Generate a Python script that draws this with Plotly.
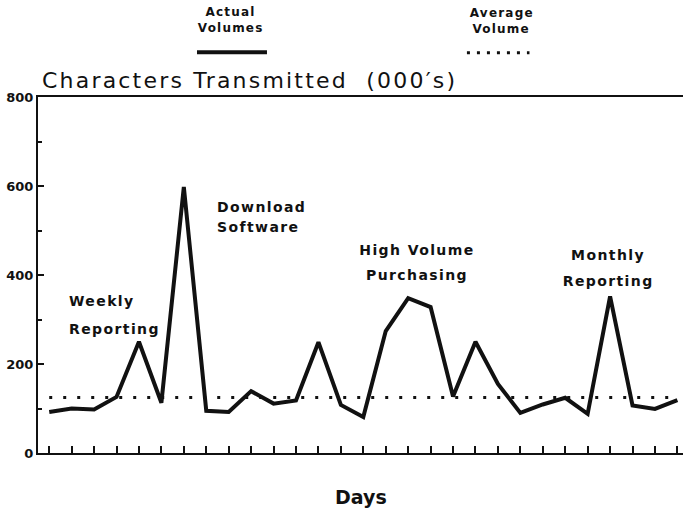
import plotly.graph_objects as go

# Daily characters transmitted, in thousands
days = list(range(29))
actual_volumes = [92, 100, 98, 126, 250, 113, 598, 95, 92, 139,
                  111, 118, 249, 108, 81, 274, 348, 328, 127, 250,
                  155, 90, 109, 124, 88, 352, 107, 99, 119]
average_volume = 125

y_tick_values = [0, 200, 400, 600, 800]
y_tick_labels = ["0", "200", "400", "600", "800"]

# Event labels: (lines, x day, y values per line, anchor)
events = [
    (["Weekly", "Reporting"], 0.8, [342, 279], "left"),
    (["Download", "Software"], 7.4, [552, 507], "left"),
    (["High Volume", "Purchasing"], 16.4, [457, 399], "center"),
    (["Monthly", "Reporting"], 24.9, [446, 387], "center"),
]

BOLD = "DejaVu Sans, sans-serif"
INK = "#111111"

fig = go.Figure()

fig.add_trace(go.Scatter(
    x=days, y=[average_volume] * len(days), mode="lines",
    line=dict(color=INK, width=3, dash="3px,11px"),
    hoverinfo="skip", showlegend=False,
))
fig.add_trace(go.Scatter(
    x=days, y=actual_volumes, mode="lines",
    line=dict(color=INK, width=4),
    showlegend=False,
))

annotations = []
for lines, xd, ys, anchor in events:
    for text, yv in zip(lines, ys):
        annotations.append(dict(
            x=xd, y=yv, xref="x", yref="y", text=f"<b>{text}</b>",
            showarrow=False, xanchor=anchor, yanchor="middle",
            font=dict(family=BOLD, size=14, color=INK),
        ))

# Title above the frame
annotations.append(dict(
    x=0.003, y=1.045, xref="paper", yref="paper",
    text="Characters Transmitted  (000\u2032s)", showarrow=False,
    xanchor="left", yanchor="middle",
    font=dict(family="DejaVu Sans, sans-serif", size=22, color=INK),
))
# Axis title
annotations.append(dict(
    x=0.501, y=-0.124, xref="paper", yref="paper", text="<b>Days</b>",
    showarrow=False, xanchor="center", yanchor="middle",
    font=dict(family=BOLD, size=19, color=INK),
))
# Key above the chart
key_text = [("Actual", 0.298, 1.238), ("Volumes", 0.298, 1.194),
            ("Average", 0.720, 1.236), ("Volume", 0.718, 1.192)]
for text, xp, yp in key_text:
    annotations.append(dict(
        x=xp, y=yp, xref="paper", yref="paper", text=f"<b>{text}</b>",
        showarrow=False, xanchor="center", yanchor="middle",
        font=dict(family=BOLD, size=12, color=INK),
    ))

shapes = [
    dict(type="line", xref="paper", yref="paper", x0=0.2465, x1=0.355,
         y0=1.126, y1=1.126, line=dict(color=INK, width=4)),
    dict(type="line", xref="paper", yref="paper", x0=0.665, x1=0.762,
         y0=1.124, y1=1.124, line=dict(color=INK, width=3, dash="3px,7px")),
]

fig.update_layout(
    width=683, height=510,
    margin=dict(l=38, r=0, t=97, b=57),
    paper_bgcolor="white", plot_bgcolor="white",
    annotations=annotations, shapes=shapes,
    xaxis=dict(
        range=[-0.5, 28.25], tickvals=days, ticks="inside", ticklen=7,
        tickwidth=2, tickcolor=INK, showticklabels=False,
        showline=True, linewidth=2, linecolor=INK, mirror=True,
        showgrid=False, zeroline=False,
    ),
    yaxis=dict(
        range=[0, 800], tickvals=y_tick_values, ticktext=y_tick_labels,
        ticks="inside", ticklen=6, tickwidth=2, tickcolor=INK,
        minor=dict(dtick=100, ticks="inside", ticklen=4, tickwidth=2,
                   tickcolor=INK, showgrid=False),
        showline=True, linewidth=2, linecolor=INK,
        showgrid=False, zeroline=False,
        tickfont=dict(family=BOLD, size=13, color=INK, weight="bold"),
    ),
)

# Plotter-style lettering: open up the letter spacing of the labels and
# keep left-anchored labels starting where they were placed.
spacing_js = """
var gd = document.getElementById('{plot_id}');
gd.querySelectorAll('g.annotation').forEach(function (g) {
    var t = g.querySelector('.annotation-text');
    if (!t || t.textContent === 'Days') { return; }
    var ann = gd.layout.annotations[+g.getAttribute('data-index')] || {};
    var w0 = t.getBBox().width;
    t.style.letterSpacing = '0.1em';
    var w1 = t.getBBox().width;
    var dx = 0;
    if (ann.xanchor === 'left') { dx = (w1 - w0) / 2; }
    else if (ann.xanchor === 'right') { dx = -(w1 - w0) / 2; }
    var prev = t.getAttribute('transform') || '';
    t.setAttribute('transform', 'translate(' + dx + ',0) ' + prev);
});
"""

fig.write_html("out.html", post_script=spacing_js)
